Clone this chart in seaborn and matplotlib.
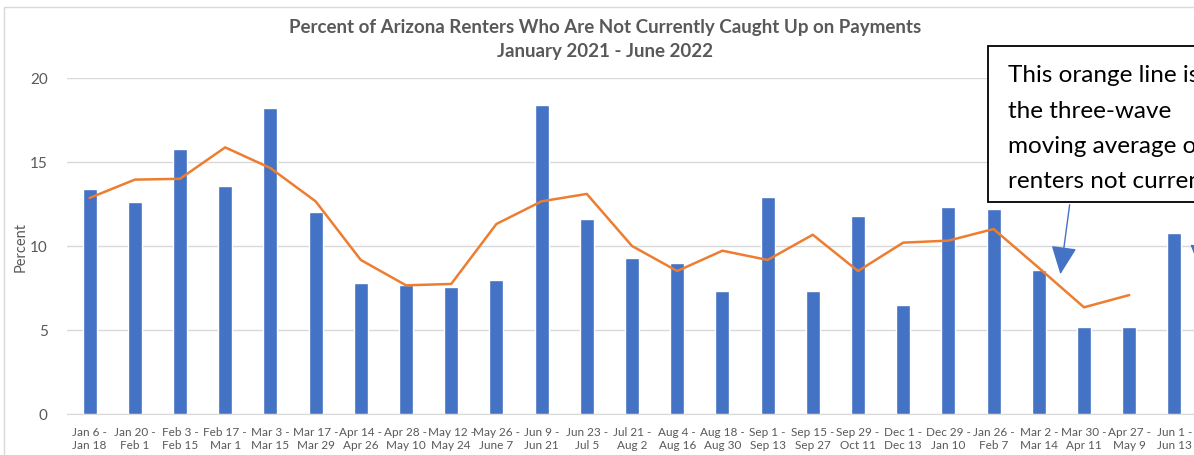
import numpy as np
import pandas as pd
import matplotlib.pyplot as plt
import seaborn as sns
from matplotlib.patches import Rectangle

# ---------- DATA ----------
periods = ["Jan 6 -\nJan 18", "Jan 20 -\nFeb 1", "Feb 3 -\nFeb 15", "Feb 17 -\nMar 1",
           "Mar 3 -\nMar 15", "Mar 17 -\nMar 29", "Apr 14 -\nApr 26", "Apr 28 -\nMay 10",
           "May 12 -\nMay 24", "May 26 -\nJune 7", "Jun 9 -\nJun 21", "Jun 23 -\nJul 5",
           "Jul 21 -\nAug 2", "Aug 4 -\nAug 16", "Aug 18 -\nAug 30", "Sep 1 -\nSep 13",
           "Sep 15 -\nSep 27", "Sep 29 -\nOct 11", "Dec 1 -\nDec 13", "Dec 29 -\nJan 10",
           "Jan 26 -\nFeb 7", "Mar 2 -\nMar 14", "Mar 30 -\nApr 11", "Apr 27 -\nMay 9",
           "Jun 1 -\nJun 13"]

percent = [13.4, 12.6, 15.8, 13.6, 18.2, 12.0, 7.8, 7.7, 7.55, 8.0, 18.4, 11.6,
           9.3, 9.0, 7.3, 12.9, 7.3, 11.8, 6.5, 12.3, 12.2, 8.6, 5.2, 5.2, 10.8]

moving_avg = [12.86, 13.95, 14.0, 15.87, 14.64, 12.66, 9.17, 7.66, 7.74, 11.31,
              12.66, 13.1, 10.0, 8.51, 9.72, 9.17, 10.67, 8.51, 10.2, 10.32,
              11.01, 8.7, 6.35, 7.08]

df = pd.DataFrame({"period": periods, "percent": percent})
ma = pd.DataFrame({"pos": np.arange(len(moving_avg)), "ma": moving_avg})

# ---------- STYLE ----------
sns.set_style("white")
plt.rcParams["font.family"] = ["Lato", "DejaVu Sans"]
grey = "#595959"

W, H = 1194, 456
fig = plt.figure(figsize=(W / 100, H / 100), dpi=100)
ax = fig.add_axes([67 / W, (H - 415) / H, (1197 - 67) / W, (415 - 79) / H])

# chart border (only left/top visible in crop)
fig.add_artist(Rectangle((4 / W, -0.1), 1.2, (H - 8) / H + 0.1, transform=fig.transFigure,
                         fill=False, edgecolor="#D9D9D9", lw=1))

# ---------- PLOT ----------
sns.barplot(data=df, x="period", y="percent", color="#4472C4", width=0.31,
            saturation=1, ax=ax, zorder=3)
sns.lineplot(data=ma, x="pos", y="ma", color="#ED7D31", lw=1.8, ax=ax, zorder=4)

ax.set_xlim(-0.5, len(periods) - 0.5)
ax.set_ylim(0, 20)
ax.set_yticks([0, 5, 10, 15, 20])
ax.yaxis.grid(True, color="#D9D9D9", lw=1, zorder=0)
ax.set_axisbelow(True)
for s in ["top", "right", "left"]:
    ax.spines[s].set_visible(False)
ax.spines["bottom"].set_color("#D9D9D9")
ax.tick_params(length=0)
ax.tick_params(axis="y", labelsize=11, labelcolor=grey, pad=14)
ax.tick_params(axis="x", labelsize=8.5, labelcolor=grey, pad=9)
ax.set_xlabel("")
ax.set_ylabel("Percent", fontsize=10.5, color=grey)
ax.yaxis.set_label_coords(-0.035, 0.5)

# ---------- TITLE ----------
fig.text(605 / W, 1 - 28 / H, "Percent of Arizona Renters Who Are Not Currently Caught Up on Payments",
         ha="center", va="center", fontsize=13.5, fontweight="bold", color=grey)
fig.text(605 / W, 1 - 52 / H, "January 2021 - June 2022",
         ha="center", va="center", fontsize=13.5, fontweight="bold", color=grey)

# ---------- ANNOTATION BOX ----------
fig.add_artist(Rectangle((988 / W, (H - 203) / H), 0.5, (203 - 47) / H, transform=fig.transFigure,
                         facecolor="white", edgecolor="black", lw=1.3, zorder=10))
box_lines = ["This orange line is", "the three-wave", "moving average of", "renters not currently"]
for i, line in enumerate(box_lines):
    fig.text(1008 / W, 1 - (76 + 35.3 * i) / H, line, ha="left", va="center",
             fontsize=17.5, color="black", zorder=11)

ax.annotate("", xy=(1060, H - 278), xycoords="figure pixels",
            xytext=(1070, H - 203), textcoords="figure pixels",
            arrowprops=dict(arrowstyle="-|>,head_length=1.1,head_width=0.5",
                            color="#4472C4", lw=1, mutation_scale=16), zorder=12)
ax.annotate("", xy=(1201, H - 276), xycoords="figure pixels",
            xytext=(1205, H - 203), textcoords="figure pixels",
            arrowprops=dict(arrowstyle="-|>,head_length=1.1,head_width=0.5",
                            color="#4472C4", lw=1, mutation_scale=16), zorder=12)

fig.savefig("out.png", dpi=100)
